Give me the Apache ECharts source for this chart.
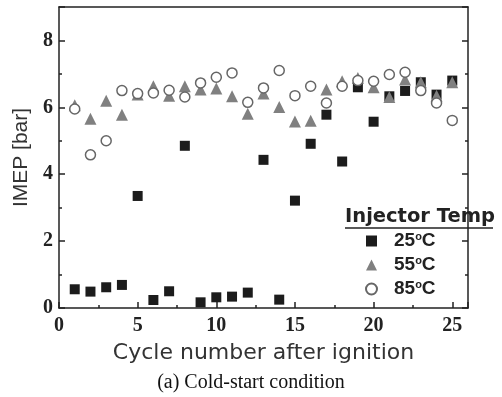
<!DOCTYPE html>
<html>
<head>
<meta charset="utf-8">
<script src="https://cdn.jsdelivr.net/npm/echarts@6/dist/echarts.min.js"></script>
<style>
  html, body { margin: 0; padding: 0; background: #fff; }
  #main { width: 502px; height: 397px; }
</style>
</head>
<body>
<div id="main"></div>
<script>
// cycle number after ignition
var cycles = [1, 2, 3, 4, 5, 6, 7, 8, 9, 10, 11, 12, 13, 14, 15, 16, 17, 18, 19, 20, 21, 22, 23, 24, 25];

// IMEP [bar] per injector temperature
var imep25 = [0.56, 0.49, 0.62, 0.69, 3.35, 0.24, 0.5, 4.85, 0.17, 0.32, 0.34, 0.46, 4.43, 0.25, 3.21, 4.91, 5.78, 4.38, 6.6, 5.57, 6.33, 6.49, 6.75, 6.38, 6.8];
var imep55 = [6.06, 5.66, 6.2, 5.78, 6.38, 6.63, 6.35, 6.63, 6.53, 6.56, 6.33, 5.81, 6.41, 6.01, 5.58, 5.6, 6.53, 6.78, 6.88, 6.6, 6.31, 6.83, 6.75, 6.35, 6.75];
var imep85 = [5.95, 4.58, 5.0, 6.5, 6.41, 6.43, 6.51, 6.31, 6.73, 6.9, 7.03, 6.15, 6.58, 7.1, 6.35, 6.63, 6.13, 6.63, 6.8, 6.78, 6.98, 7.05, 6.5, 6.13, 5.61];

var seriesNames = ['25', '55', '85'];

function pairs(ys) {
    return cycles.map(function (c, i) { return [c, ys[i]]; });
}

var tickFont = { fontFamily: 'Liberation Serif', fontWeight: 'bold', fontSize: 20, color: '#222' };
var lineSt = { color: '#222', width: 1.5 };

var myChart = echarts.init(document.getElementById('main'));
var option = {
    animation: false,
    grid: { left: 59, right: 34, top: 7, bottom: 89 },
    legend: {
        orient: 'vertical',
        left: 360,
        top: 226,
        itemWidth: 11,
        itemHeight: 11,
        itemGap: 4,
        data: seriesNames,
        formatter: function (n) { return n + '{sup|o}C'; },
        textStyle: {
            fontFamily: 'Liberation Sans',
            fontWeight: 'bold',
            fontSize: 19,
            lineHeight: 20,
            color: '#222',
            padding: [0, 0, 0, 12],
            rich: {
                sup: { fontSize: 11, lineHeight: 11, fontWeight: 'bold', verticalAlign: 'top', color: '#222' }
            }
        }
    },
    graphic: [
        {
            type: 'text', left: 345, top: 207,
            style: { text: 'Injector Temp', fontFamily: 'DejaVu Sans', fontWeight: 'bold', fontSize: 19.5, fill: '#222' }
        },
        {
            type: 'line', shape: { x1: 345, y1: 228, x2: 493, y2: 228 },
            style: { stroke: '#222', lineWidth: 1.5 }
        },
        {
            type: 'text', left: 'center', top: 373,
            style: { text: '(a) Cold-start condition', fontFamily: 'Liberation Serif', fontSize: 20, fill: '#111' }
        }
    ],
    xAxis: [
        {
            type: 'value', min: 0, max: 26, interval: 5,
            name: 'Cycle number after ignition',
            nameLocation: 'middle', nameGap: 34,
            nameTextStyle: { fontFamily: 'DejaVu Sans', fontSize: 22, color: '#333' },
            axisLine: { onZero: false, lineStyle: lineSt },
            axisTick: { inside: true, length: 6, lineStyle: lineSt },
            minorTick: { show: true, splitNumber: 2, length: 3, lineStyle: lineSt },
            axisLabel: Object.assign({ margin: 8, showMaxLabel: false }, tickFont),
            splitLine: { show: false }
        },
        {
            type: 'value', min: 0, max: 26, position: 'top',
            axisLine: { show: true, onZero: false, lineStyle: lineSt },
            axisTick: { show: false }, axisLabel: { show: false }, splitLine: { show: false }
        }
    ],
    yAxis: [
        {
            type: 'value', min: 0, max: 9, interval: 2,
            name: 'IMEP [bar]',
            nameLocation: 'middle', nameGap: 26, nameRotate: 90,
            nameTextStyle: { fontFamily: 'Liberation Sans', fontSize: 21, color: '#333' },
            axisLine: { show: true, onZero: false, lineStyle: lineSt },
            axisTick: { inside: true, length: 6, lineStyle: lineSt },
            minorTick: { show: true, splitNumber: 2, length: 3, lineStyle: lineSt },
            axisLabel: Object.assign({ margin: 6, showMaxLabel: false }, tickFont),
            splitLine: { show: false }
        },
        {
            type: 'value', min: 0, max: 9, interval: 2, position: 'right',
            axisLine: { show: true, onZero: false, lineStyle: lineSt },
            axisTick: { inside: true, length: 6, lineStyle: lineSt },
            minorTick: { show: true, splitNumber: 2, length: 3, lineStyle: lineSt },
            axisLabel: { show: false },
            splitLine: { show: false }
        }
    ],
    series: [
        {
            name: seriesNames[0], type: 'scatter', symbol: 'rect', symbolSize: 10,
            itemStyle: { color: '#1c1c1c', opacity: 1 },
            data: pairs(imep25), z: 2
        },
        {
            name: seriesNames[1], type: 'scatter', symbol: 'triangle', symbolSize: 12,
            itemStyle: { color: '#808080', opacity: 1 },
            data: pairs(imep55), z: 3
        },
        {
            name: seriesNames[2], type: 'scatter', symbol: 'circle', symbolSize: 10,
            itemStyle: { color: '#fff', borderColor: '#666', borderWidth: 1.5, opacity: 1 },
            data: pairs(imep85), z: 4
        }
    ]
};
myChart.setOption(option);
</script>
</body>
</html>
